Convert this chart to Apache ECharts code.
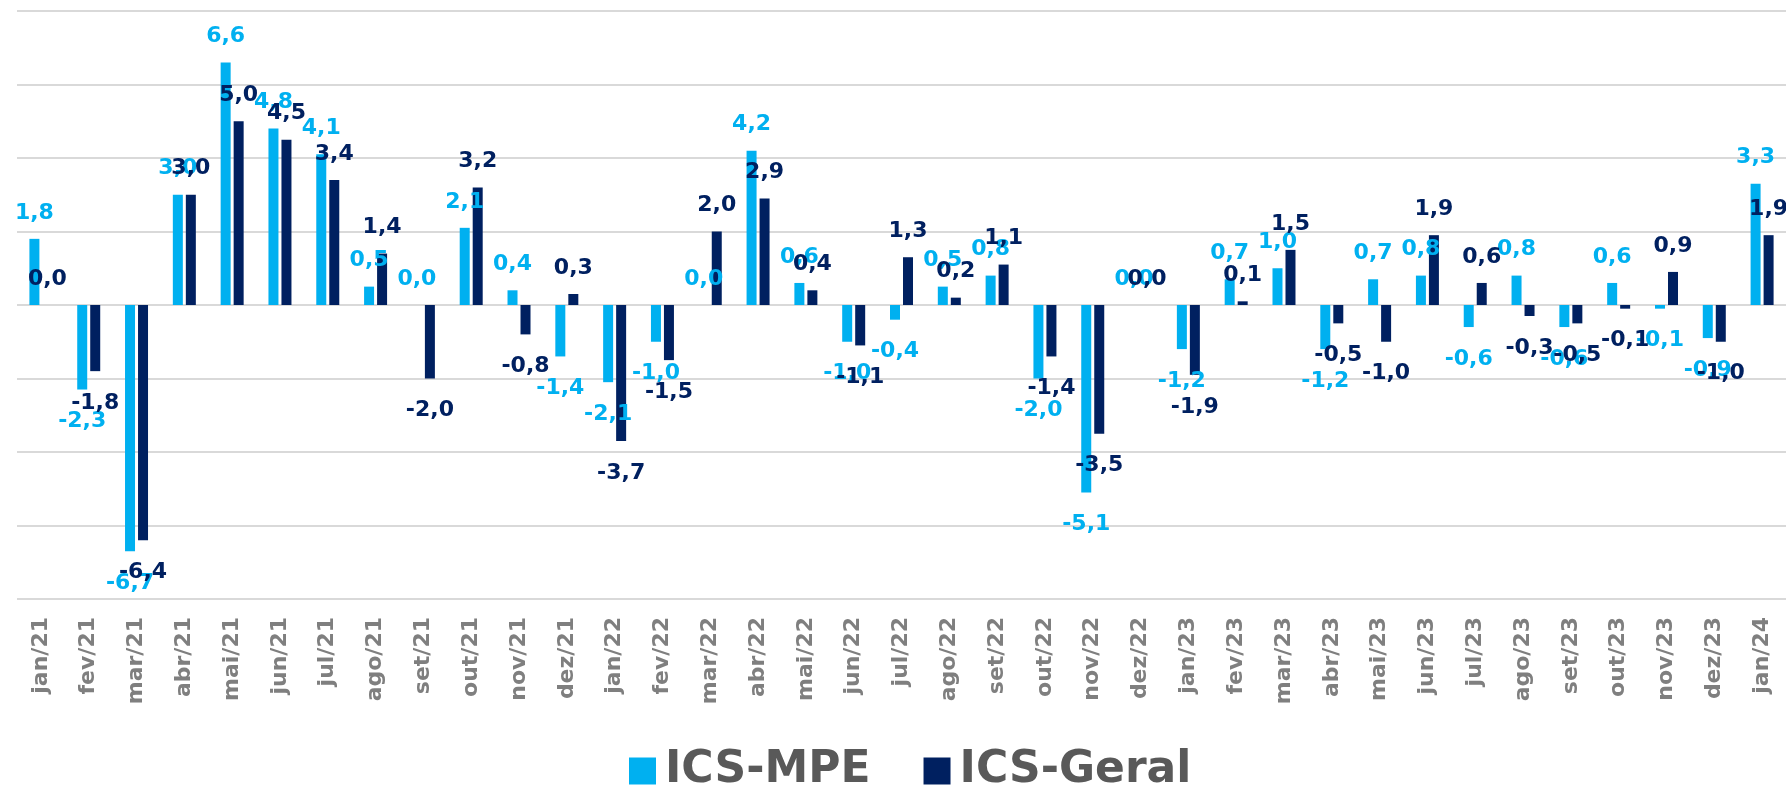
<!DOCTYPE html>
<html>
<head>
<meta charset="utf-8">
<script src="https://cdn.jsdelivr.net/npm/echarts@6/dist/echarts.min.js"></script>
<style>
  html, body { margin: 0; padding: 0; background: #fff; }
  #chart { width: 1786px; height: 788px; }
</style>
</head>
<body>
<div id="chart"></div>
<script>
const months = [
  "jan/21", "fev/21", "mar/21", "abr/21", "mai/21", "jun/21", "jul/21", "ago/21", "set/21", "out/21", "nov/21", "dez/21",
  "jan/22", "fev/22", "mar/22", "abr/22", "mai/22", "jun/22", "jul/22", "ago/22", "set/22", "out/22", "nov/22", "dez/22",
  "jan/23", "fev/23", "mar/23", "abr/23", "mai/23", "jun/23", "jul/23", "ago/23", "set/23", "out/23", "nov/23", "dez/23",
  "jan/24",
];
const icsMpe = [
  1.8, -2.3, -6.7, 3.0, 6.6, 4.8, 4.1, 0.5, 0.0, 2.1, 0.4, -1.4,
  -2.1, -1.0, 0.0, 4.2, 0.6, -1.0, -0.4, 0.5, 0.8, -2.0, -5.1, 0.0,
  -1.2, 0.7, 1.0, -1.2, 0.7, 0.8, -0.6, 0.8, -0.6, 0.6, -0.1, -0.9,
  3.3,
];
const icsGeral = [
  0.0, -1.8, -6.4, 3.0, 5.0, 4.5, 3.4, 1.4, -2.0, 3.2, -0.8, 0.3,
  -3.7, -1.5, 2.0, 2.9, 0.4, -1.1, 1.3, 0.2, 1.1, -1.4, -3.5, 0.0,
  -1.9, 0.1, 1.5, -0.5, -1.0, 1.9, 0.6, -0.3, -0.5, -0.1, 0.9, -1.0,
  1.9,
];
const seriesNames = ["ICS-MPE", "ICS-Geral"];
const seriesColors = ["#00b0f0", "#002060"];

const labelFont = "DejaVu Sans";

// labels under negative bars sit a bit further away; zeros go above the line
function toBarData(values) {
  return values.map(function (v) {
    if (v === 0) {
      return { value: v, label: { position: "top" } };
    }
    if (v < 0) {
      return { value: v, label: { distance: 21 } };
    }
    return v;
  });
}

function makeSeries(name, values, color) {
  return {
    name: name,
    type: "bar",
    data: toBarData(values),
    barWidth: 10,
    barGap: "30%",
    itemStyle: { color: color },
    label: {
      show: true,
      position: "outside",
      distance: 15,
      color: color,
      fontFamily: labelFont,
      fontWeight: "bold",
      fontSize: 22,
      formatter: function (p) {
        return p.value.toFixed(1).replace(".", ",");
      },
    },
  };
}

const chart = echarts.init(document.getElementById("chart"), null, { renderer: "canvas" });

chart.setOption({
  animation: false,
  backgroundColor: "#ffffff",
  grid: {
    left: 17,
    right: 0,
    top: 11,
    bottom: 189,
  },
  legend: {
    left: 624,
    top: 744,
    itemWidth: 27,
    itemHeight: 27,
    itemGap: 53,
    icon: "rect",
    textStyle: {
      color: "#595959",
      fontFamily: labelFont,
      fontWeight: "bold",
      fontSize: 44,
      padding: [0, 0, 0, 4],
    },
    data: seriesNames,
  },
  xAxis: {
    type: "category",
    data: months,
    axisLine: { show: false, onZero: false },
    axisTick: { show: false },
    axisLabel: {
      rotate: 90,
      margin: 18,
      interval: 0,
      color: "#7f7f7f",
      fontFamily: labelFont,
      fontWeight: "bold",
      fontSize: 22,
    },
  },
  yAxis: {
    type: "value",
    min: -8,
    max: 8,
    interval: 2,
    axisLabel: { show: false },
    axisLine: { show: false },
    axisTick: { show: false },
    splitLine: {
      lineStyle: { color: "#d9d9d9", width: 2 },
    },
  },
  series: [
    makeSeries(seriesNames[0], icsMpe, seriesColors[0]),
    makeSeries(seriesNames[1], icsGeral, seriesColors[1]),
  ],
});
</script>
</body>
</html>
